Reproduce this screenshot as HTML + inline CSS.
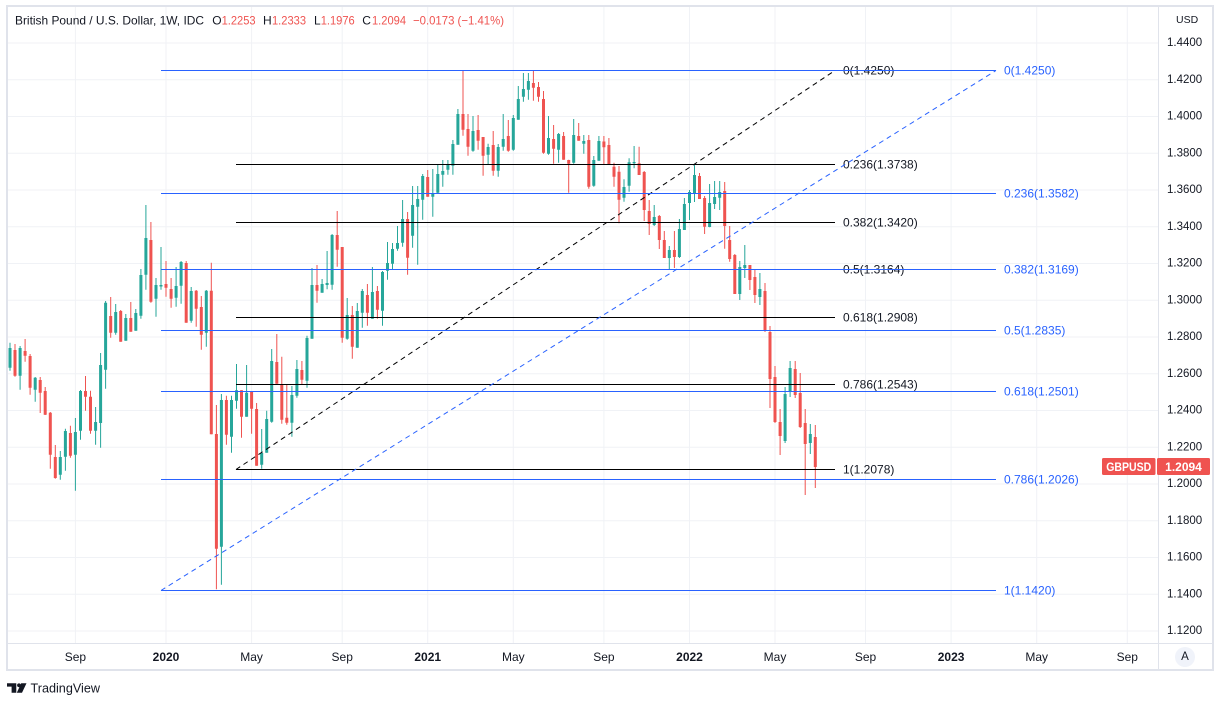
<!DOCTYPE html>
<html><head><meta charset="utf-8"><style>
html,body{margin:0;padding:0;background:#fff;}
svg{display:block;font-family:"Liberation Sans",Arial,sans-serif;}
</style></head><body>
<svg width="1214" height="704" viewBox="0 0 1214 704" xmlns="http://www.w3.org/2000/svg">
<rect x="0" y="0" width="1214" height="704" fill="#fff"/>
<!-- grid -->
<g stroke="#f0f2f6" stroke-width="1">
<path d="M7 43H1158M7 79.75H1158M7 116.5H1158M7 153.25H1158M7 190H1158M7 226.75H1158M7 263.5H1158M7 300.25H1158M7 337H1158M7 373.75H1158M7 410.5H1158M7 447.25H1158M7 484H1158M7 520.75H1158M7 557.5H1158M7 594.25H1158M7 631H1158"/>
<path d="M75.4 6V643M166 6V643M251.6 6V643M342.2 6V643M427.7 6V643M513.3 6V643M603.9 6V643M689.5 6V643M775 6V643M865.5 6V643M951.1 6V643M1036.7 6V643M1127.3 6V643"/>
</g>
<!-- frame -->
<rect x="7" y="6" width="1206" height="664" fill="none" stroke="#e0e3eb" stroke-width="2"/>
<path d="M7 643.5H1213M1158.5 6V670" stroke="#e0e3eb" stroke-width="1"/>

<!-- candles green -->
<path stroke="#26a69a" stroke-width="1" fill="none" d="M10 342.7V370.7M20.1 346V389.7M35.2 377V401.7M60.3 451V479.7M65.4 428.7V470.7M75.4 418V490.7M80.5 390V439.7M95.6 407V444.7M100.6 353V447.7M105.6 301V388.7M115.7 304V334.7M125.8 314V340.7M135.8 309V330.7M140.9 269V318.7M145.9 205V289.7M156 278V316.7M161 247V289.7M176.1 267V306.7M181.1 261V303.7M191.2 287V322.7M206.3 290V346.7M221.4 394V584.7M231.5 395.7V452.7M236.5 364V408.7M246.6 365V416.7M261.7 429V468.7M266.7 410.7V452.7M271.7 349V422.7M291.9 386V436.7M296.9 360V397.7M307 335.7V387.7M312 268V338.7M322.1 279V292.7M327.1 251V289.3M332.1 234V289.7M347.2 298V339.7M357.3 303V347.7M362.3 289V327.7M372.4 267V318.7M382.5 271V325.7M387.5 242V279.7M392.5 243V269.7M397.5 226V250.7M402.6 200V246.7M412.6 186V247.7M417.7 186V264.7M422.7 174V219.7M432.8 169V216.7M437.8 164V193.7M442.8 160V186.7M447.9 160V174.7M452.9 140V174.7M457.9 109V144.7M473 116V151.7M488.1 143.7V164.7M498.2 144V176.7M503.2 114V150.7M513.3 115V150.7M518.3 86V119.7M523.4 73V101.7M528.4 73V99.7M548.5 116V154.7M558.6 133V162.7M573.7 119V163.7M583.8 135V153.7M593.8 156V186.7M598.9 136V160.7M624 179.3V201.7M629.1 158.3V191.7M634.1 146V168.3M654.2 205V226M669.3 246V269M679.4 219V258M684.4 198V230M689.5 190V220M694.5 164V202M709.6 184V227.3M714.6 181V209M719.7 181V210M739.8 261V300M744.8 245V278M759.9 273V305M785.1 387V443M790.1 361V397M810.3 424V454"/>
<path fill="#26a69a" d="M8.5 348h3V367.7h-3zM18.6 348h3V375.7h-3zM33.7 377.7h3V389.7h-3zM58.8 457h3V474.7h-3zM63.9 431h3V456.7h-3zM73.9 432h3V454.7h-3zM79 391h3V430.7h-3zM94.1 422h3V430.7h-3zM99.1 365h3V423h-3zM104.1 302.7h3V369.7h-3zM114.2 312h3V332.7h-3zM124.3 318h3V340.7h-3zM134.3 313h3V330.7h-3zM139.4 275h3V315.7h-3zM144.4 238h3V274.7h-3zM154.5 285h3V298.7h-3zM159.5 285h3V286.5h-3zM174.6 286h3V297.7h-3zM179.6 262h3V285.7h-3zM189.7 291h3V320.7h-3zM204.8 290.7h3V332.7h-3zM219.9 400h3V546.7h-3zM230 400h3V436.7h-3zM235 390.3h3V400.7h-3zM245.1 392.7h3V416.7h-3zM260.2 453h3V464.7h-3zM265.2 419h3V452.7h-3zM270.2 361h3V421.7h-3zM290.4 395h3V422.7h-3zM295.4 369h3V395.7h-3zM305.5 338h3V380.7h-3zM310.5 285h3V338.7h-3zM320.6 284h3V292.7h-3zM325.6 283h3V285h-3zM330.6 235h3V284.7h-3zM345.7 315h3V338.7h-3zM355.8 311h3V347.7h-3zM360.8 291h3V312.7h-3zM370.9 292h3V318.7h-3zM381 272h3V310.7h-3zM386 263h3V270.7h-3zM391 249h3V263.7h-3zM396 243h3V248.7h-3zM401.1 219h3V242.7h-3zM411.1 205h3V235.7h-3zM416.2 199h3V206.7h-3zM421.2 176h3V199.7h-3zM431.3 193.7h3V196.7h-3zM436.3 174h3V192.7h-3zM441.3 171h3V174.7h-3zM446.4 165h3V169.7h-3zM451.4 144h3V165.7h-3zM456.4 114h3V144.7h-3zM471.5 131h3V150.7h-3zM486.6 147h3V154.7h-3zM496.7 147h3V170.7h-3zM501.7 139h3V146.7h-3zM511.8 118h3V149.7h-3zM516.8 99h3V119.7h-3zM521.9 89h3V96.7h-3zM526.9 81h3V89.7h-3zM547 138h3V153.7h-3zM557.1 134h3V149.7h-3zM572.2 135h3V162.7h-3zM582.3 141h3V143.7h-3zM592.3 160h3V185.7h-3zM597.4 141h3V160.7h-3zM622.5 187h3V197.7h-3zM627.6 162.3h3V185.7h-3zM632.6 162h3V163.3h-3zM652.7 217h3V225h-3zM667.8 250h3V258h-3zM677.9 229h3V257h-3zM682.9 204h3V230h-3zM688 192h3V203h-3zM693 175h3V193h-3zM708.1 203h3V227h-3zM713.1 197h3V204h-3zM718.2 192h3V197.7h-3zM738.3 267h3V294h-3zM743.3 265h3V268h-3zM758.4 289h3V297h-3zM783.6 394h3V441h-3zM788.6 368h3V392h-3zM808.8 434h3V443h-3z"/>
<!-- candles red -->
<path stroke="#ef5350" stroke-width="1" fill="none" d="M15 344V376.7M25.1 339V361.7M30.1 354V394.7M40.2 377V413M45.2 387V415M50.3 412V468.7M55.3 445V478.7M70.4 425.7V457.7M85.5 376V410.7M90.5 390.7V433.7M110.7 297V337.7M120.7 310V341.7M130.8 302V331.7M150.9 222V302.7M166 261V296.7M171.1 278V307.7M186.2 261V322.7M196.2 290V326.7M201.3 296V349.7M211.3 262.7V434.3M216.4 405V589.3M226.4 395.7V444.7M241.5 390.3V437.7M251.6 391.7V433.7M256.6 403V465.7M276.8 334V383.7M281.8 356.7V423.7M286.8 385V424.7M301.9 361V384.7M317 265V302.7M337.2 211V266.7M342.2 247V342.7M352.3 306V358.7M367.4 284V325.7M377.4 286V318.7M407.6 212V274.7M427.7 170V196.7M463 70.7V135.7M468 114V155.7M478.1 115V149.7M483.1 137V175.7M493.2 131V175.7M508.3 120V151.7M533.4 71V100.7M538.5 82V101.7M543.5 91V153.7M553.6 125V163.7M563.6 132V159.7M568.7 159.7V192.7M578.7 123V140.7M588.8 135V188.7M603.9 136V165M608.9 138V165M614 162.7V186.7M619 166V223.3M639.1 146.7V168.3M644.2 171V221M649.2 200V235M659.3 215V249M664.3 231V258M674.4 231V268M699.5 173V199M704.6 196V234M724.7 182V248.7M729.7 226V261.7M734.8 254V294M749.9 265V290M754.9 269V303M765 283V332M770 326V408M775 366V423M780.1 409V455M795.2 361V398M800.2 373V428M805.2 409V495M815.3 425V488"/>
<path fill="#ef5350" d="M13.5 350h3V375.7h-3zM23.6 351h3V355.7h-3zM28.6 356h3V387.7h-3zM38.7 380h3V392.7h-3zM43.7 391h3V414.7h-3zM48.8 412.7h3V454.7h-3zM53.8 457h3V478h-3zM68.9 433h3V455.7h-3zM84 391h3V396.7h-3zM89 396.7h3V430.7h-3zM109.2 316h3V332.7h-3zM119.2 311h3V341.7h-3zM129.3 318h3V331.7h-3zM149.4 240h3V301.7h-3zM164.5 284h3V287.7h-3zM169.6 289h3V298.7h-3zM184.7 263h3V322.7h-3zM194.7 290.7h3V308.7h-3zM199.8 307h3V334.7h-3zM209.8 290.7h3V434.3h-3zM214.9 434h3V548.7h-3zM224.9 400h3V434.7h-3zM240 390.3h3V416.7h-3zM250.1 391.7h3V408.7h-3zM255.1 409h3V465.7h-3zM275.3 362h3V383.7h-3zM280.3 384h3V419.7h-3zM285.3 417.7h3V422.7h-3zM300.4 370h3V379.7h-3zM315.5 285h3V290.7h-3zM335.7 235h3V249.7h-3zM340.7 247h3V337.7h-3zM350.8 315h3V346.7h-3zM365.9 295h3V312.7h-3zM375.9 291h3V309.7h-3zM406.1 219h3V257.7h-3zM426.2 177h3V196.7h-3zM461.5 114h3V129.7h-3zM466.5 129h3V146.7h-3zM476.6 130h3V140.7h-3zM481.6 137h3V155.7h-3zM491.7 145h3V170.7h-3zM506.8 136h3V150.7h-3zM531.9 83h3V87.7h-3zM537 87h3V96.7h-3zM542 99h3V152.7h-3zM552.1 139h3V148.7h-3zM562.1 136h3V159.7h-3zM567.2 160h3V163.7h-3zM577.2 136h3V140.7h-3zM587.3 140h3V186.7h-3zM602.4 141.5h3V147.3h-3zM607.4 145h3V164h-3zM612.5 166.7h3V176.7h-3zM617.5 171.7h3V199.7h-3zM637.6 163.3h3V175h-3zM642.7 172h3V210h-3zM647.7 211h3V224h-3zM657.8 216h3V240h-3zM662.8 240h3V258h-3zM672.9 250h3V257h-3zM698 176h3V199h-3zM703.1 198h3V226.7h-3zM723.2 191h3V226h-3zM728.2 240h3V259h-3zM733.3 255h3V294h-3zM748.4 265h3V280h-3zM753.4 277h3V295h-3zM763.5 291h3V331h-3zM768.5 332h3V379h-3zM773.5 377h3V422h-3zM778.6 422h3V436h-3zM793.7 369h3V395h-3zM798.7 393h3V427h-3zM803.7 423h3V444h-3zM813.8 437h3V467h-3z"/>

<!-- black fib -->
<path stroke="#000" stroke-width="1" fill="none" d="M236 70.5H835M236 164.5H835M236 222.5H835M236 269.5H835M236 317.5H835M236 384.5H835M236 469.5H835"/>
<line x1="236" y1="469.5" x2="835" y2="70.5" stroke="#000" stroke-width="1" stroke-dasharray="5 4"/>
<g font-size="12" fill="#131722" dominant-baseline="central">
<text x="843" y="70.5">0(1.4250)</text>
<text x="843" y="164.5">0.236(1.3738)</text>
<text x="843" y="222.5">0.382(1.3420)</text>
<text x="843" y="269.5">0.5(1.3164)</text>
<text x="843" y="317.5">0.618(1.2908)</text>
<text x="843" y="384.5">0.786(1.2543)</text>
<text x="843" y="469.5">1(1.2078)</text>
</g>
<!-- blue fib -->
<path stroke="#2962ff" stroke-width="1" fill="none" d="M161 70.5H996M161 193.5H996M161 269.5H996M161 330.5H996M161 391.5H996M161 479.5H996M161 590.5H996"/>
<line x1="161" y1="590.5" x2="996" y2="70.5" stroke="#2962ff" stroke-width="1" stroke-dasharray="5 4"/>
<g font-size="12" fill="#2962ff" dominant-baseline="central">
<text x="1004" y="70.5">0(1.4250)</text>
<text x="1004" y="193.5">0.236(1.3582)</text>
<text x="1004" y="269.5">0.382(1.3169)</text>
<text x="1004" y="330.5">0.5(1.2835)</text>
<text x="1004" y="391.5">0.618(1.2501)</text>
<text x="1004" y="479.5">0.786(1.2026)</text>
<text x="1004" y="590.5">1(1.1420)</text>
</g>

<!-- title -->
<g font-size="12" fill="#131722">
<text x="15" y="24.5" textLength="189" lengthAdjust="spacingAndGlyphs">British Pound / U.S. Dollar, 1W, IDC</text>
<text x="212.3" y="24.5">O</text>
<text x="221.6" y="24.5" fill="#ef5350" textLength="34" lengthAdjust="spacingAndGlyphs">1.2253</text>
<text x="263" y="24.5">H</text>
<text x="272" y="24.5" fill="#ef5350" textLength="34" lengthAdjust="spacingAndGlyphs">1.2333</text>
<text x="314" y="24.5">L</text>
<text x="320.7" y="24.5" fill="#ef5350" textLength="34" lengthAdjust="spacingAndGlyphs">1.1976</text>
<text x="362.3" y="24.5">C</text>
<text x="372" y="24.5" fill="#ef5350" textLength="34" lengthAdjust="spacingAndGlyphs">1.2094</text>
<text x="413" y="24.5" fill="#ef5350" textLength="91" lengthAdjust="spacingAndGlyphs">−0.0173 (−1.41%)</text>
</g>

<!-- price axis -->
<g font-size="11.5" fill="#131722" dominant-baseline="central">
<text x="1176" y="20" font-size="10.5">USD</text>
<text x="1167" y="43">1.4400</text>
<text x="1167" y="79.75">1.4200</text>
<text x="1167" y="116.5">1.4000</text>
<text x="1167" y="153.25">1.3800</text>
<text x="1167" y="190">1.3600</text>
<text x="1167" y="226.75">1.3400</text>
<text x="1167" y="263.5">1.3200</text>
<text x="1167" y="300.25">1.3000</text>
<text x="1167" y="337">1.2800</text>
<text x="1167" y="373.75">1.2600</text>
<text x="1167" y="410.5">1.2400</text>
<text x="1167" y="447.25">1.2200</text>
<text x="1167" y="484">1.2000</text>
<text x="1167" y="520.75">1.1800</text>
<text x="1167" y="557.5">1.1600</text>
<text x="1167" y="594.25">1.1400</text>
<text x="1167" y="631">1.1200</text>
</g>
<!-- last price tags -->
<rect x="1102" y="458" width="53.5" height="17" rx="1.5" fill="#ef5350"/>
<rect x="1157" y="458" width="53" height="17" rx="1.5" fill="#ef5350"/>
<text x="1128.7" y="466.8" font-size="12" fill="#fff" text-anchor="middle" dominant-baseline="central" font-weight="bold" textLength="45" lengthAdjust="spacingAndGlyphs">GBPUSD</text>
<text x="1183.5" y="466.8" font-size="12" fill="#fff" text-anchor="middle" dominant-baseline="central" font-weight="bold">1.2094</text>

<!-- time axis -->
<g font-size="12" fill="#131722" text-anchor="middle" dominant-baseline="central">
<text x="75.4" y="657">Sep</text>
<text x="166" y="657" font-weight="bold">2020</text>
<text x="251.6" y="657">May</text>
<text x="342.2" y="657">Sep</text>
<text x="427.7" y="657" font-weight="bold">2021</text>
<text x="513.3" y="657">May</text>
<text x="603.9" y="657">Sep</text>
<text x="689.5" y="657" font-weight="bold">2022</text>
<text x="775" y="657">May</text>
<text x="865.5" y="657">Sep</text>
<text x="951.1" y="657" font-weight="bold">2023</text>
<text x="1036.7" y="657">May</text>
<text x="1127.3" y="657">Sep</text>
</g>
<circle cx="1185" cy="657" r="10" fill="#f0f3fa"/>
<text x="1185" y="657" font-size="11.5" fill="#131722" text-anchor="middle" dominant-baseline="central">A</text>

<!-- TradingView logo -->
<g fill="#131722">
<path d="M7 683.3H16.3V692.7H11.6V686.6H7Z"/>
<circle cx="19" cy="685.3" r="1.9"/>
<path d="M21.2 683.3H26.5L22 692.7H16.8Z"/>
</g>
<text x="30.5" y="692.5" font-size="12.5" fill="#131722" textLength="69.5" lengthAdjust="spacingAndGlyphs">TradingView</text>
</svg>
</body></html>
